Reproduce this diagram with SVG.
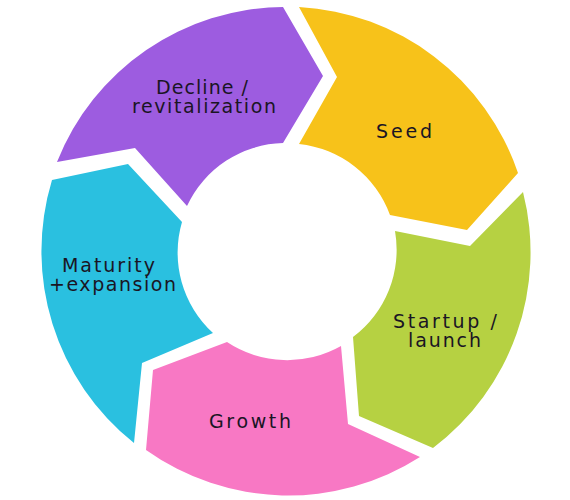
<svg xmlns="http://www.w3.org/2000/svg" width="570" height="500" viewBox="0 0 570 500">
<style>
.lbl{font-family:"DejaVu Sans","Liberation Sans",sans-serif;font-size:19px;fill:#1a1524;text-anchor:middle}
</style>
<rect width="570" height="500" fill="#ffffff"/>
<g id="decline">
<path fill="#9d5ce0" d="M57,162 A245,245 0 0 1 283,7 L323,76 L283,143 A109,109 0 0 0 187,206 L135,148 Z"/>
<text class="lbl" x="202" y="94" textLength="92" lengthAdjust="spacing">Decline /</text>
<text class="lbl" x="204" y="113" textLength="144" lengthAdjust="spacing">revitalization</text>
</g>
<g id="seed">
<path fill="#f7c21a" d="M299,7 A245,245 0 0 1 518,173 L467,230 L390,215 A109,109 0 0 0 299,144 L337,77 Z"/>
<text class="lbl" x="404" y="138" textLength="56" lengthAdjust="spacing">Seed</text>
</g>
<g id="startup">
<path fill="#b6d142" d="M523,192 A245,245 0 0 1 433,448 L359,416 L353,337 A109,109 0 0 0 395,231 L470,246 Z"/>
<text class="lbl" x="445" y="328" textLength="104" lengthAdjust="spacing">Startup /</text>
<text class="lbl" x="444.5" y="347" textLength="73" lengthAdjust="spacing">launch</text>
</g>
<g id="growth">
<path fill="#f878c4" d="M420,457 A245,245 0 0 1 146,450 L153,370 L227,342 A109,109 0 0 0 341,346 L348,424 Z"/>
<text class="lbl" x="250" y="428" textLength="82" lengthAdjust="spacing">Growth</text>
</g>
<g id="maturity">
<path fill="#2ac0e0" d="M134,443 A245,245 0 0 1 52,180 L128,164 L182,222 A109,109 0 0 0 213,333 L142,363 Z"/>
<text class="lbl" x="108.5" y="272" textLength="93" lengthAdjust="spacing">Maturity</text>
<text class="lbl" x="112.5" y="291" textLength="127" lengthAdjust="spacing">+expansion</text>
</g>
</svg>
